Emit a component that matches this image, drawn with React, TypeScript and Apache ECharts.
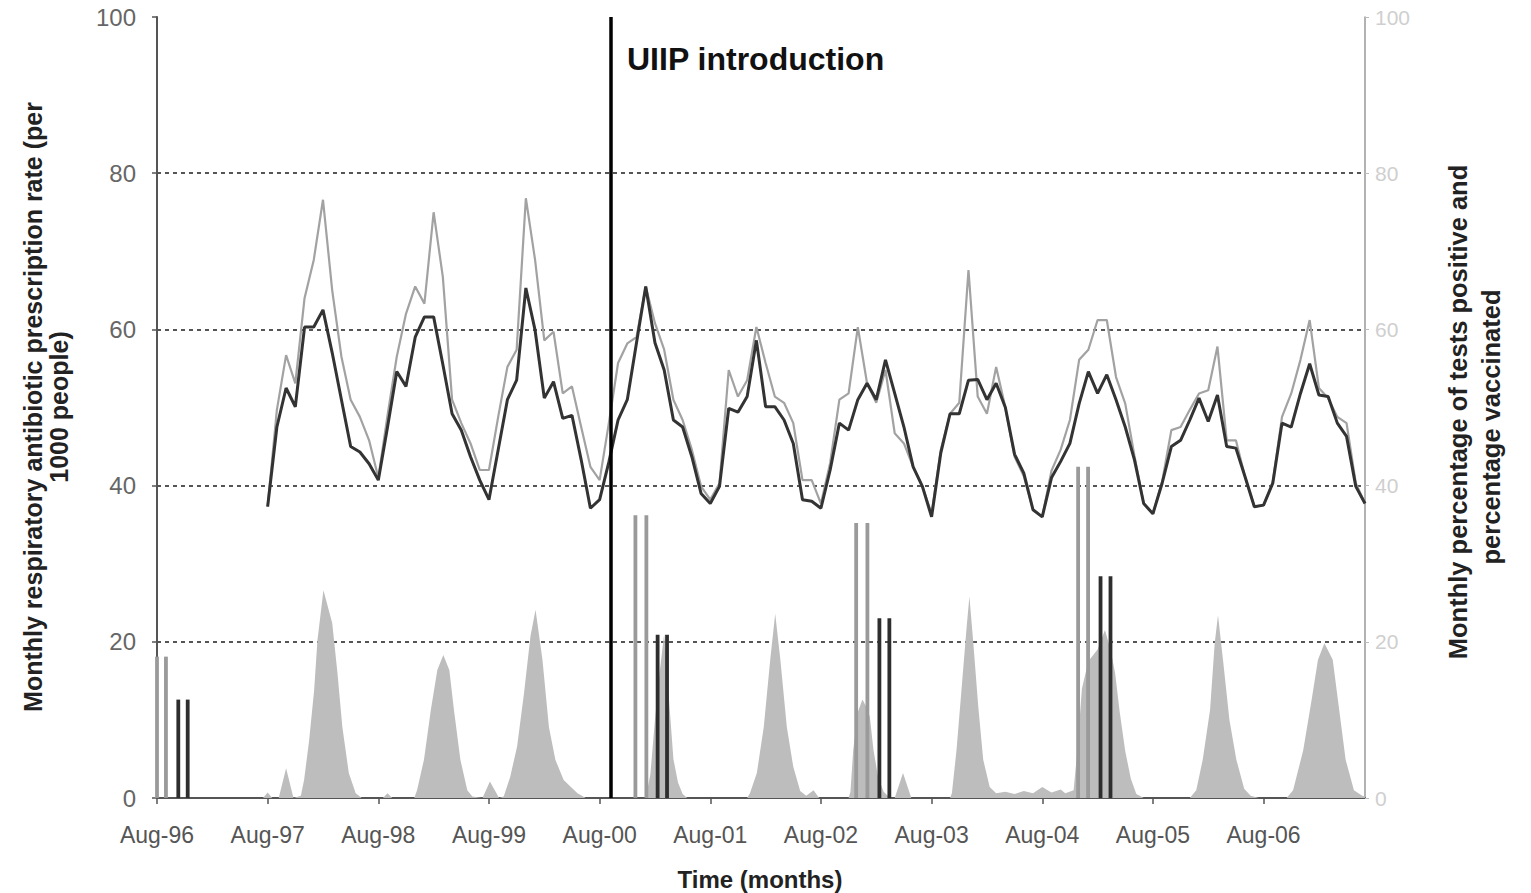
import React, { useEffect, useRef } from "react";
import * as echarts from "echarts";

// Month index 0 = Aug-96; the axis runs to month 131 (Jun-07)
const LAST_MONTH = 131;
const yearTicks = [0, 12, 24, 36, 48, 60, 72, 84, 96, 108, 120];
const yearLabels = [
  "Aug-96", "Aug-97", "Aug-98", "Aug-99", "Aug-00", "Aug-01",
  "Aug-02", "Aug-03", "Aug-04", "Aug-05", "Aug-06",
];

// Monthly antibiotic prescription rates start at month 12 (Aug-97)
const rateStartMonth = 12;
const lightRate = [
  37.3, 49.7, 56.7, 53.1, 64, 68.9, 76.6, 65, 56.5, 51, 48.8, 45.8,
  41, 49, 56.5, 62, 65.5, 63.3, 75, 66.7, 51, 48, 45.4, 42,
  42, 48.8, 55.2, 57.4, 76.8, 68.9, 58.6, 59.7, 51.8, 52.7, 47.5, 42.4,
  40.7, 48, 55.7, 58.2, 59, 65.5, 60.8, 57.4, 51, 48.4, 44.6, 39.9,
  38.2, 40.3, 54.8, 51.4, 53.5, 60.3, 55.7, 51.4, 50.6, 48, 40.7, 40.7,
  37.7, 42.9, 51, 51.8, 60.3, 53.1, 50.6, 54.8, 46.7, 45.4, 42.4, 39.9,
  36.4, 44.6, 49.2, 50.6, 67.6, 51.4, 49.2, 55.2, 50, 43.7, 41.2, 36.9,
  36, 41.9, 44.6, 48.4, 56.1, 57.4, 61.2, 61.2, 53.9, 50.5, 43.8, 37.7,
  36.4, 40.5, 47.1, 47.5, 49.7, 51.8, 52.2, 57.8, 45.8, 45.8, 41.1, 37.3,
  37.5, 40.5, 48.8, 51.8, 56.1, 61.2, 52.5, 51.2, 48.8, 48, 40.3, 37.7,
];
const darkRate = [
  37.3, 47.5, 52.5, 50.1, 60.3, 60.3, 62.5, 57, 51, 45, 44.3, 42.8,
  40.7, 47.5, 54.6, 52.7, 59, 61.6, 61.6, 55.5, 49.2, 47.1, 43.7, 40.7,
  38.2, 44.6, 51, 53.5, 65.3, 59.9, 51.2, 53.3, 48.6, 49, 43.3, 37.1,
  38.2, 43, 48.4, 51, 58.3, 65.5, 58.3, 54.8, 48.4, 47.5, 43.7, 39,
  37.7, 39.9, 49.9, 49.4, 51.4, 58.6, 50.1, 50.1, 48.4, 45.4, 38.2, 38,
  37.1, 42, 48, 47.1, 51, 53.1, 51, 56.1, 51.8, 47.5, 42.4, 39.9,
  36, 44.2, 49.2, 49.2, 53.5, 53.6, 51, 53.1, 50, 44, 41.6, 36.9,
  36, 41, 43.1, 45.4, 50.5, 54.6, 51.8, 54.2, 51, 47.5, 43.3, 37.7,
  36.4, 40.3, 45, 45.8, 48.4, 51.2, 48.2, 51.6, 45, 44.8, 41.1, 37.3,
  37.5, 40.3, 48, 47.5, 51.8, 55.6, 51.6, 51.4, 48, 46.3, 39.9, 37.7,
];

// Percentage of tests positive: [month, %], sampled finer than monthly
const positiveTests: [number, number][] = [
  [0, 0], [11.5, 0], [12, 0.7], [12.5, 0], [13.2, 0], [14, 3.8], [14.8, 0],
  [15.6, 0.3], [15.95, 2.3], [16.5, 7.4], [17.04, 13.8], [17.4, 20.2], [18.05, 26.6],
  [19.0, 22.4], [19.57, 16], [20.1, 9.1], [20.8, 3.2], [21.55, 0.6], [22.2, 0],
  [24.5, 0], [25, 0.6], [25.5, 0], [27.9, 0], [28.2, 1], [28.95, 4.9], [29.7, 11.3],
  [30.4, 16.4], [31.05, 18.3], [31.7, 16.4], [32.2, 11.3], [32.9, 4.9], [33.65, 1],
  [34.2, 0.2], [35.3, 0], [36.1, 2.1], [37.1, 0], [37.6, 0.2], [38.3, 2.7], [39.05, 6.6],
  [39.8, 13.4], [40.5, 20.7], [41.05, 24.1], [41.8, 17.7], [42.5, 9.1], [43.2, 4.9],
  [44.1, 2.3], [44.8, 1.5], [45.6, 0.6], [46.5, 0], [53, 0], [53.5, 3], [54, 10],
  [54.5, 16], [55, 21], [55.5, 13], [56, 5], [56.5, 2], [57, 0.5], [57.5, 0],
  [64, 0], [64.3, 0.6], [65.05, 3.2], [65.8, 9.1], [66.5, 17.7], [67.04, 23.6],
  [67.6, 17.7], [68.3, 9.1], [69.0, 4], [69.75, 0.9], [70.4, 0.3], [71.2, 1], [71.8, 0],
  [75, 0], [75.2, 0.8], [75.5, 6.1], [76, 11], [76.5, 12.6], [77, 11.5], [77.3, 10.4],
  [77.7, 6.1], [78.2, 2.7], [78.8, 0.8], [79.5, 0], [80, 0], [80.9, 3.2], [81.8, 0],
  [86, 0], [86.2, 0.6], [86.7, 6.1], [87.3, 14.7], [87.8, 21.9], [88.1, 25.8],
  [88.5, 20.2], [89.06, 11.7], [89.6, 4.9], [90.3, 1.4], [91, 0.6], [92, 0.8],
  [93, 0.5], [94, 0.9], [95, 0.6], [96, 1.4], [97, 0.7], [98, 1.1], [98.5, 0.6],
  [99.4, 1], [99.8, 6], [100.3, 14], [101, 17.5], [102, 19], [102.8, 21.5],
  [103.4, 19], [103.9, 16], [104.4, 11], [105, 6], [105.6, 2.5], [106.2, 0.5],
  [107, 0], [112, 0], [112.7, 1], [113.4, 4.9], [114.2, 11.3], [114.7, 19.8],
  [115.06, 23.4], [115.6, 17.7], [116.3, 10], [117.05, 4.9], [117.9, 1.2], [118.6, 0.3],
  [119.5, 0], [122.5, 0], [123.2, 1], [124.3, 6.1], [125.2, 12.5], [125.9, 17.7],
  [126.6, 19.8], [127.5, 17.7], [128.2, 11.3], [128.9, 4.9], [129.8, 1], [130.7, 0.3],
  [131, 0.2],
];

// Vaccination survey bars: [start month, end month, %]
const grayBars: [number, number, number][] = [
  [0, 0.97, 18.1],
  [51.88, 53.07, 36.2],
  [75.82, 77.04, 35.2],
  [99.89, 100.97, 42.4],
];
const darkBars: [number, number, number][] = [
  [2.31, 3.33, 12.6],
  [54.29, 55.31, 20.9],
  [78.34, 79.42, 23.0],
  [102.32, 103.4, 28.4],
];

const uiipMonth = 49.2;

const FONT = '"Liberation Sans", Arial, sans-serif';

function barRenderer(color: string) {
  return (_params: any, api: any) => {
    const x0 = api.value(0);
    const x1 = api.value(1);
    const v = api.value(2);
    const t0 = api.coord([x0, v]);
    const b0 = api.coord([x0, 0]);
    const t1 = api.coord([x1, v]);
    const b1 = api.coord([x1, 0]);
    const style = { stroke: color, lineWidth: 3.8 };
    return {
      type: "group",
      children: [
        { type: "line", shape: { x1: t0[0], y1: t0[1], x2: b0[0], y2: b0[1] }, style },
        { type: "line", shape: { x1: t1[0], y1: t1[1], x2: b1[0], y2: b1[1] }, style },
      ],
    };
  };
}

export default function App() {
  const ref = useRef<HTMLDivElement>(null);

  useEffect(() => {
    document.body.style.margin = "0";
    if (!ref.current) return;
    const chart = echarts.init(ref.current, undefined, { renderer: "svg" });

    const lightData = lightRate.map((v, i) => [rateStartMonth + i, v]);
    const darkData = darkRate.map((v, i) => [rateStartMonth + i, v]);

    chart.setOption({
      animation: false,
      backgroundColor: "#ffffff",
      textStyle: { fontFamily: FONT },
      grid: {
        left: 157,
        right: 166,
        top: 17,
        bottom: 95,
        containLabel: false,
        outerBoundsMode: "none",
      },
      xAxis: {
        type: "value",
        min: 0,
        max: LAST_MONTH,
        axisLine: { show: true, lineStyle: { color: "#555", width: 2 } },
        axisTick: {
          show: true,
          customValues: yearTicks,
          length: 6,
          lineStyle: { color: "#555", width: 1.5 },
        },
        axisLabel: {
          customValues: yearTicks,
          formatter: (v: number) => {
            const i = yearTicks.indexOf(Math.round(v));
            return i >= 0 ? yearLabels[i] : "";
          },
          color: "#555",
          fontSize: 23,
          fontFamily: FONT,
          margin: 25,
        },
        splitLine: { show: false },
      },
      yAxis: [
        {
          type: "value",
          min: 0,
          max: 100,
          interval: 20,
          axisLine: { show: true, lineStyle: { color: "#555", width: 2 } },
          axisTick: { show: true, length: 5, lineStyle: { color: "#555", width: 1.5 } },
          axisLabel: { color: "#666", fontSize: 24, fontFamily: FONT, margin: 21 },
          splitLine: {
            show: true,
            showMinLine: false,
            showMaxLine: false,
            lineStyle: { color: "#555", width: 2.2, type: [4, 4] },
          },
        },
        {
          type: "value",
          position: "right",
          min: 0,
          max: 100,
          interval: 20,
          axisLine: { show: true, lineStyle: { color: "#999", width: 1.5 } },
          axisTick: { show: true, length: 4, lineStyle: { color: "#bbb" } },
          axisLabel: { color: "#cfcfcf", fontSize: 21, fontFamily: FONT, margin: 10 },
          splitLine: { show: false },
        },
      ],
      series: [
        {
          name: "Tests positive",
          type: "line",
          yAxisIndex: 1,
          data: positiveTests,
          symbol: "none",
          lineStyle: { width: 0 },
          areaStyle: { color: "#bdbdbd", opacity: 1 },
          z: 1,
        },
        {
          name: "Vaccinated (gray)",
          type: "custom",
          yAxisIndex: 1,
          data: grayBars,
          encode: { x: [0, 1], y: 2 },
          renderItem: barRenderer("#9a9a9a"),
          z: 2,
        },
        {
          name: "Vaccinated (dark)",
          type: "custom",
          yAxisIndex: 1,
          data: darkBars,
          encode: { x: [0, 1], y: 2 },
          renderItem: barRenderer("#2e2e2e"),
          z: 2,
        },
        {
          name: "Rate (light)",
          type: "line",
          data: lightData,
          symbol: "none",
          lineStyle: { color: "#a2a2a2", width: 2.2 },
          z: 3,
        },
        {
          name: "Rate (dark)",
          type: "line",
          data: darkData,
          symbol: "none",
          lineStyle: { color: "#333333", width: 3 },
          z: 4,
          markLine: {
            silent: true,
            symbol: ["none", "none"],
            label: { show: false },
            lineStyle: { color: "#000", width: 3.5, type: "solid" },
            data: [{ xAxis: uiipMonth }],
          },
        },
      ],
      graphic: [
        {
          type: "text",
          x: 627,
          y: 59,
          style: {
            text: "UIIP introduction",
            font: `bold 32px ${FONT}`,
            fill: "#111",
            textVerticalAlign: "middle",
          },
        },
        {
          type: "text",
          x: 760,
          y: 879,
          style: {
            text: "Time (months)",
            font: `bold 24px ${FONT}`,
            fill: "#222",
            textAlign: "center",
            textVerticalAlign: "middle",
          },
        },
        {
          type: "text",
          x: 33,
          y: 407,
          rotation: Math.PI / 2,
          style: {
            text: "Monthly respiratory antibiotic prescription rate (per",
            font: `bold 25px ${FONT}`,
            fill: "#222",
            textAlign: "center",
            textVerticalAlign: "middle",
          },
        },
        {
          type: "text",
          x: 59,
          y: 407,
          rotation: Math.PI / 2,
          style: {
            text: "1000 people)",
            font: `bold 25px ${FONT}`,
            fill: "#222",
            textAlign: "center",
            textVerticalAlign: "middle",
          },
        },
        {
          type: "text",
          x: 1458,
          y: 412,
          rotation: Math.PI / 2,
          style: {
            text: "Monthly percentage of tests positive and",
            font: `bold 25.5px ${FONT}`,
            fill: "#222",
            textAlign: "center",
            textVerticalAlign: "middle",
          },
        },
        {
          type: "text",
          x: 1491,
          y: 427,
          rotation: Math.PI / 2,
          style: {
            text: "percentage vaccinated",
            font: `bold 25.5px ${FONT}`,
            fill: "#222",
            textAlign: "center",
            textVerticalAlign: "middle",
          },
        },
      ],
    });

    return () => chart.dispose();
  }, []);

  return <div ref={ref} style={{ width: 1531, height: 893 }} />;
}
